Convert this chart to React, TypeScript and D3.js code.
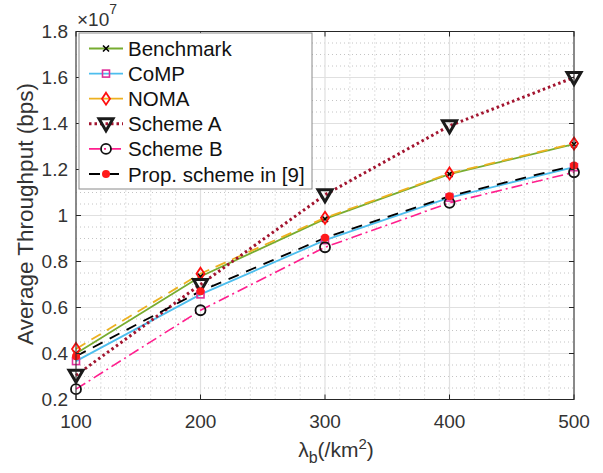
import React from 'react';
import * as d3 from 'd3';

// throughput values in units of 1e7 bps
const densities = [100, 200, 300, 400, 500];
const benchmark = [0.40, 0.735, 0.985, 1.18, 1.31];
const comp = [0.367, 0.657, 0.893, 1.078, 1.21];
const noma = [0.42, 0.747, 0.99, 1.183, 1.313];
const schemeA = [0.305, 0.70, 1.09, 1.39, 1.60];
const schemeB = [0.245, 0.588, 0.862, 1.055, 1.188];
const propScheme = [0.388, 0.671, 0.903, 1.084, 1.217];

const xTicks = [100, 200, 300, 400, 500];
const yTicks = [0.2, 0.4, 0.6, 0.8, 1, 1.2, 1.4, 1.6, 1.8];

const W = 603;
const H = 473;
const FONT = '"Liberation Sans", Arial, Helvetica, sans-serif';

const series = [
  { name: 'Benchmark', values: benchmark, color: '#77AC30', dash: null, legendDash: null, width: 1.8, marker: 'x' },
  { name: 'CoMP', values: comp, color: '#4DBEEE', dash: null, legendDash: null, width: 1.8, marker: 'square' },
  { name: 'NOMA', values: noma, color: '#EDB120', dash: '11,7', legendDash: null, width: 1.8, marker: 'diamond' },
  { name: 'Scheme A', values: schemeA, color: '#A2142F', dash: '2.5,3', legendDash: '2.5,3', width: 3, marker: 'tri' },
  { name: 'Scheme B', values: schemeB, color: '#FF1F8E', dash: '11,4,2,4', legendDash: '11,4,2,4', width: 1.6, marker: 'circle' },
  { name: 'Prop. scheme in [9]', values: propScheme, color: '#000000', dash: '11,8', legendDash: '11,8', width: 1.8, marker: 'dot' },
];

function Marker({ type, x, y }: { type: string; x: number; y: number }) {
  if (type === 'x') {
    return (
      <g transform={`translate(${x},${y})`} stroke="#000" strokeWidth={1.6}>
        <line x1={-3} y1={-3} x2={3} y2={3} />
        <line x1={-3} y1={3} x2={3} y2={-3} />
      </g>
    );
  }
  if (type === 'square') {
    return <rect x={x - 3.5} y={y - 3.5} width={7} height={7} fill="none" stroke="#E0309B" strokeWidth={1.6} />;
  }
  if (type === 'diamond') {
    return (
      <path d={`M${x},${y - 6}L${x + 4},${y}L${x},${y + 6}L${x - 4},${y}Z`} fill="none" stroke="#FF1010" strokeWidth={1.8} />
    );
  }
  if (type === 'tri') {
    return (
      <path d={`M${x - 7},${y - 5}L${x + 7},${y - 5}L${x},${y + 7}Z`} fill="none" stroke="#1a1a1a" strokeWidth={3} strokeLinejoin="miter" />
    );
  }
  if (type === 'circle') {
    return <circle cx={x} cy={y} r={5} fill="none" stroke="#111" strokeWidth={1.8} />;
  }
  return <circle cx={x} cy={y} r={4} fill="#FF1A1A" />;
}

export default function App() {
  const margin = { left: 76, right: W - 574, top: 31.5, bottom: H - 399.5 };
  const x = d3.scaleLinear().domain([100, 500]).range([margin.left, W - margin.right]);
  const y = d3.scaleLinear().domain([0.2, 1.8]).range([H - margin.bottom, margin.top]);

  const line = d3.line<number>()
    .x((_, i) => x(densities[i]))
    .y((d) => y(d));

  const xMinor = d3.range(100, 500.1, 20).filter((v) => v % 100 !== 0);
  const yMinor = d3.range(0.2, 1.801, 0.05).filter((v) => Math.abs(v * 5 - Math.round(v * 5)) > 1e-6);

  const x0 = x(100), x1 = x(500), y0 = y(0.2), y1 = y(1.8);
  const axisColor = '#262626';
  const textColor = '#333';

  const legend = { x: 79, y: 33, w: 233, h: 156, row0: 48.5, step: 25.1 };

  return (
    <svg width={W} height={H} style={{ position: 'absolute', left: 0, top: 0, background: '#fff' }} fontFamily={FONT}>
      {/* minor grid */}
      {xMinor.map((v) => (
        <line key={'xm' + v} x1={x(v)} x2={x(v)} y1={y0} y2={y1} stroke="#c4c4c4" strokeWidth={1} strokeDasharray="1,3" />
      ))}
      {yMinor.map((v) => (
        <line key={'ym' + v} x1={x0} x2={x1} y1={y(v)} y2={y(v)} stroke="#c4c4c4" strokeWidth={1} strokeDasharray="1,3" />
      ))}
      {/* major grid */}
      {xTicks.map((v) => (
        <line key={'xg' + v} x1={x(v)} x2={x(v)} y1={y0} y2={y1} stroke="#e0e0e0" strokeWidth={1.2} />
      ))}
      {yTicks.map((v) => (
        <line key={'yg' + v} x1={x0} x2={x1} y1={y(v)} y2={y(v)} stroke="#e0e0e0" strokeWidth={1.2} />
      ))}

      {/* series */}
      {series.map((s) => (
        <path key={s.name} d={line(s.values) || ''} fill="none" stroke={s.color} strokeWidth={s.width}
          strokeDasharray={s.dash || undefined} />
      ))}
      {series.map((s) => (
        <g key={s.name + 'm'}>
          {s.values.map((v, i) => (
            <Marker key={i} type={s.marker} x={x(densities[i])} y={y(v)} />
          ))}
        </g>
      ))}

      {/* axes box and ticks */}
      <rect x={x0} y={y1} width={x1 - x0} height={y0 - y1} fill="none" stroke={axisColor} strokeWidth={1} />
      {xTicks.map((v) => (
        <g key={'xt' + v} stroke={axisColor}>
          <line x1={x(v)} x2={x(v)} y1={y0} y2={y0 - 5} />
          <line x1={x(v)} x2={x(v)} y1={y1} y2={y1 + 5} />
        </g>
      ))}
      {yTicks.map((v) => (
        <g key={'yt' + v} stroke={axisColor}>
          <line x1={x0} x2={x0 + 5} y1={y(v)} y2={y(v)} />
          <line x1={x1} x2={x1 - 5} y1={y(v)} y2={y(v)} />
        </g>
      ))}
      {xTicks.map((v) => (
        <text key={'xl' + v} x={x(v)} y={y0 + 28} textAnchor="middle" fontSize={19} fill={textColor}>{v}</text>
      ))}
      {yTicks.map((v) => (
        <text key={'yl' + v} x={x0 - 8} y={y(v) + 6.5} textAnchor="end" fontSize={19} fill={textColor}>{String(v)}</text>
      ))}

      {/* exponent */}
      <text x={77} y={26} fontSize={19} fill={textColor}>
        ×10<tspan dy={-12} fontSize={14}>7</tspan>
      </text>

      {/* axis labels */}
      <text transform={`translate(33,214) rotate(-90)`} textAnchor="middle" fontSize={22.5} fill={textColor}>
        Average Throughput (bps)
      </text>
      <text x={336} y={457} textAnchor="middle" fontSize={21} fill={textColor}>
        λ<tspan dy={6} fontSize={16}>b</tspan><tspan dy={-6}>(/km</tspan><tspan dy={-8} fontSize={15}>2</tspan><tspan dy={8}>)</tspan>
      </text>

      {/* legend */}
      <rect x={legend.x} y={legend.y} width={legend.w} height={legend.h} fill="#fff" stroke="#8a8a8a" strokeWidth={1} />
      {series.map((s, i) => {
        const ly = legend.row0 + i * legend.step;
        return (
          <g key={'lg' + s.name}>
            <line x1={89} x2={123} y1={ly} y2={ly} stroke={s.color} strokeWidth={s.width}
              strokeDasharray={s.legendDash || undefined} />
            <Marker type={s.marker} x={106} y={ly} />
            <text x={128} y={ly + 7.5} fontSize={20.5} fill="#111">{s.name}</text>
          </g>
        );
      })}
    </svg>
  );
}
